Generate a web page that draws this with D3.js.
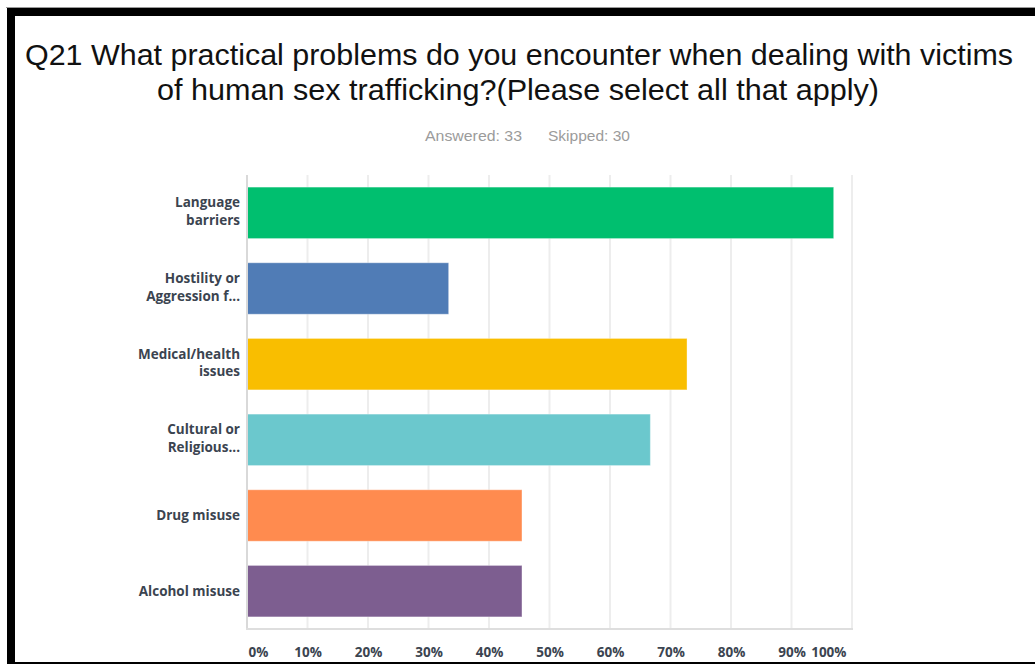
<!DOCTYPE html>
<html>
<head>
<meta charset="utf-8">
<script src="https://cdn.jsdelivr.net/npm/d3@7"></script>
<style>
  html, body { margin: 0; padding: 0; background: #fff; }
  svg { display: block; }
</style>
</head>
<body>
<div id="chart"></div>
<script>
const categories = [
    ["Language", "barriers"],
    ["Hostility or", "Aggression f..."],
    ["Medical/health", "issues"],
    ["Cultural or", "Religious..."],
    ["Drug misuse"],
    ["Alcohol misuse"]
];
const values = [96.97, 33.33, 72.73, 66.67, 45.45, 45.45];
const barColors = ["#00bf6f", "#507cb6", "#f9be00", "#6bc8cd", "#ff8b4f", "#7d5e90"];
const tickValues = [0, 10, 20, 30, 40, 50, 60, 70, 80, 90, 100];
const titleLines = [
    "Q21 What practical problems do you encounter when dealing with victims",
    "of human sex trafficking?(Please select all that apply)"
];
const answered = "Answered: 33";
const skipped = "Skipped: 30";

const width = 1035, height = 664;
const plot = { left: 247, right: 852, top: 175, bottom: 629 };

const svg = d3.select("#chart").append("svg")
    .attr("width", width)
    .attr("height", height);

svg.append("rect").attr("width", width).attr("height", height).attr("fill", "#fff");

// frame around the screenshot
svg.append("rect").attr("x", 6).attr("y", 7).attr("width", width - 6).attr("height", 1).attr("fill", "#9a9a9a");
svg.append("rect").attr("x", 7).attr("y", 8).attr("width", width - 7).attr("height", 8).attr("fill", "#000");
svg.append("rect").attr("x", 7).attr("y", 8).attr("width", 8).attr("height", 656).attr("fill", "#000");
svg.append("rect").attr("x", 7).attr("y", 662).attr("width", width - 7).attr("height", 2).attr("fill", "#000");

// title
svg.selectAll("text.title")
    .data(titleLines)
    .enter().append("text")
    .attr("class", "title")
    .attr("x", (d, i) => i === 0 ? 25 : 157)
    .attr("y", (d, i) => i === 0 ? 65 : 100)
    .attr("textLength", (d, i) => i === 0 ? 988 : 722)
    .attr("lengthAdjust", "spacingAndGlyphs")
    .style("font-family", "'Liberation Sans', Arial, sans-serif")
    .style("font-size", "30px")
    .style("fill", "#111")
    .text(d => d);

svg.append("text")
    .attr("x", 425).attr("y", 141)
    .attr("textLength", 97).attr("lengthAdjust", "spacingAndGlyphs")
    .style("font-family", "'Liberation Sans', Arial, sans-serif")
    .style("font-size", "15px")
    .style("fill", "#9b9b9b")
    .text(answered);
svg.append("text")
    .attr("x", 548).attr("y", 141)
    .attr("textLength", 82).attr("lengthAdjust", "spacingAndGlyphs")
    .style("font-family", "'Liberation Sans', Arial, sans-serif")
    .style("font-size", "15px")
    .style("fill", "#9b9b9b")
    .text(skipped);

const x = d3.scaleLinear().domain([0, 100]).range([plot.left, plot.right]);
const y = d3.scaleBand()
    .domain(d3.range(categories.length))
    .range([plot.top, plot.bottom])
    .paddingInner(0.32)
    .paddingOuter(0.16);

// gridlines
svg.append("g")
    .selectAll("line")
    .data(tickValues.slice(1))
    .enter().append("line")
    .attr("x1", d => x(d)).attr("x2", d => x(d))
    .attr("y1", plot.top).attr("y2", plot.bottom)
    .attr("stroke", "#ededed")
    .attr("stroke-width", 2);

// bars
svg.append("g")
    .selectAll("rect")
    .data(values)
    .enter().append("rect")
    .attr("x", x(0))
    .attr("y", (d, i) => y(i))
    .attr("width", d => x(d) - x(0))
    .attr("height", y.bandwidth())
    .attr("fill", (d, i) => barColors[i])
    .attr("stroke", "rgba(255,255,255,0.35)")
    .attr("stroke-width", 1);

// axes lines
svg.append("line")
    .attr("x1", plot.left).attr("x2", plot.left)
    .attr("y1", plot.top).attr("y2", plot.bottom + 1)
    .attr("stroke", "#d9d9d9").attr("stroke-width", 2);
svg.append("line")
    .attr("x1", plot.left - 1).attr("x2", plot.right + 1)
    .attr("y1", plot.bottom).attr("y2", plot.bottom)
    .attr("stroke", "#dedede").attr("stroke-width", 2);

// x tick labels
const xAxis = svg.append("g")
    .attr("transform", `translate(0,${plot.bottom})`)
    .call(d3.axisBottom(x).tickValues(tickValues).tickFormat(d => d + "%").tickSize(0).tickPadding(18));
xAxis.select(".domain").remove();
xAxis.selectAll("text")
    .style("font-family", "'Open Sans', sans-serif")
    .style("font-weight", "700")
    .style("font-size", "13.5px")
    .style("fill", "#3b4450")
    .attr("text-anchor", d => d === 0 ? "start" : d === 100 ? "end" : "middle")
    .attr("dx", d => d === 0 ? 1 : d === 100 ? -6 : 0);

// category labels
const labels = svg.append("g")
    .selectAll("text")
    .data(categories)
    .enter().append("text")
    .attr("x", 240)
    .attr("y", (d, i) => y(i) + y.bandwidth() / 2)
    .attr("text-anchor", "end")
    .style("font-family", "'Open Sans', sans-serif")
    .style("font-weight", "700")
    .style("font-size", "13.5px")
    .style("fill", "#3b4450");

labels.selectAll("tspan")
    .data(d => d)
    .enter().append("tspan")
    .attr("x", 240)
    .attr("dy", (d, i, nodes) => {
        if (nodes.length === 1) return "0.35em";
        return i === 0 ? "-0.4em" : "1.3em";
    })
    .text(d => d);
</script>
</body>
</html>
